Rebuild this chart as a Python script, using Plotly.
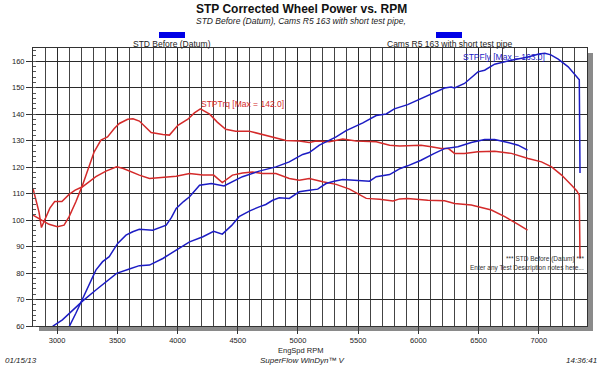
import plotly.graph_objects as go

# ---------------- data ----------------
std_trq_rpm = [2800, 2825, 2850, 2870, 2900, 2940, 2980, 3040, 3100, 3150, 3211, 3270, 3322, 3406, 3494, 3550,
               3600, 3683, 3767, 3878, 3989, 4100, 4211, 4300, 4372, 4456, 4540, 4622, 4706, 4817, 4928,
               5011, 5094, 5206, 5317, 5428, 5500, 5567, 5678, 5789, 5844, 5911, 6078, 6217, 6300, 6439,
               6606, 6717, 6828, 6906]
std_trq = [112.0, 107.5, 103.0, 97.2, 100.5, 104.5, 107.0, 107.0, 109.7, 111.3, 112.6, 114.5, 116.4, 118.5,
           120.1, 119.5, 118.5, 117.0, 115.7, 116.1, 116.6, 117.6, 117.0, 117.0, 114.2, 117.0, 117.8, 118.2,
           117.6, 117.6, 115.7, 115.1, 115.7, 114.5, 113.5, 111.7, 110.0, 108.2, 107.9, 107.2, 108.0, 108.2,
           107.5, 107.3, 106.3, 105.7, 103.8, 101.3, 98.4, 96.2]

cam_trq_rpm = [2800, 2850, 2933, 3003, 3058, 3100, 3156, 3211, 3253, 3308, 3364, 3419, 3475, 3517, 3586, 3630,
               3683, 3730, 3781, 3878, 3933, 4003, 4086, 4140, 4190, 4267, 4330, 4400, 4483, 4594, 4706,
               4817, 4900, 5011, 5094, 5150, 5261, 5372, 5483, 5650, 5761, 5844, 5911, 6022, 6106, 6189,
               6250, 6300, 6383, 6494, 6633, 6772, 6911, 7022, 7106, 7189, 7272, 7314, 7336, 7342]
cam_trq = [101.9, 100.6, 98.4, 97.5, 98.1, 101.3, 106.9, 113.2, 118.9, 125.8, 130.2, 131.4, 134.6, 136.5,
           138.1, 138.3, 137.4, 135.5, 133.1, 132.3, 132.1, 135.8, 138.1, 140.5, 142.0, 140.0, 137.0, 134.3,
           133.6, 133.6, 132.3, 131.1, 130.1, 129.9, 129.3, 129.9, 129.6, 130.6, 129.9, 129.6, 128.3, 128.0,
           128.1, 128.3, 127.7, 127.0, 127.0, 125.2, 125.2, 125.8, 126.0, 125.2, 123.3, 122.0, 120.1, 117.0,
           113.2, 111.1, 109.4, 85.5]

std_pwr_rpm = [2950, 2967, 3044, 3128, 3211, 3322, 3406, 3494, 3600, 3683, 3767, 3878, 3989, 4100, 4211,
               4300, 4372, 4450, 4511, 4600, 4678, 4733, 4790, 4844, 4928, 5011, 5094, 5164, 5233, 5300,
               5372, 5483, 5594, 5650, 5761, 5800, 5850, 5911, 6022, 6133, 6217, 6328, 6439, 6550, 6633,
               6744, 6828, 6906]
std_pwr = [58.5, 60.0, 62.3, 66.0, 69.4, 73.6, 76.7, 79.9, 81.5, 82.8, 83.0, 85.5, 88.7, 91.8, 93.7, 95.8,
           94.7, 98.0, 101.3, 103.5, 105.0, 105.9, 107.5, 108.4, 108.2, 110.7, 111.3, 111.7, 113.8, 114.7,
           115.3, 115.1, 114.7, 116.4, 117.2, 118.2, 119.5, 120.5, 122.6, 125.2, 127.0, 127.7, 129.3, 130.4,
           130.4, 129.3, 128.3, 126.4]

cam_pwr_rpm = [3085, 3100, 3156, 3211, 3267, 3322, 3378, 3433, 3503, 3572, 3628, 3683, 3794, 3906, 3950,
               3989, 4050, 4100, 4183, 4281, 4386, 4539, 4678, 4817, 4928, 5039, 5094, 5178, 5317, 5400,
               5539, 5650, 5733, 5800, 5911, 6022, 6106, 6217, 6272, 6300, 6383, 6494, 6550, 6633, 6772,
               6911, 7000, 7050, 7100, 7161, 7244, 7300, 7336, 7342]
cam_pwr = [58.5, 59.7, 64.8, 70.4, 76.1, 81.1, 84.3, 86.2, 91.2, 94.3, 95.6, 96.5, 96.2, 98.1, 101.0, 104.4,
           107.0, 108.8, 113.2, 113.8, 112.9, 116.4, 118.5, 120.1, 122.0, 124.8, 125.5, 128.3, 131.4, 133.8,
           136.7, 139.5, 140.1, 142.0, 143.6, 145.9, 147.8, 149.9, 150.3, 149.9, 151.6, 156.0, 156.6, 158.9,
           160.4, 161.6, 162.7, 163.0, 162.4, 160.8, 157.9, 155.0, 153.0, 117.8]

x_ticks = [3000, 3500, 4000, 4500, 5000, 5500, 6000, 6500, 7000]
y_ticks = [60, 70, 80, 90, 100, 110, 120, 130, 140, 150, 160]

RED = "#d42a2a"
BLUE = "#1c1cc4"
FONT = "Liberation Sans, Arial, sans-serif"

# ---------------- figure ----------------
W, H = 600, 367
L, R, T, B = 33, 587, 48, 326   # plot area pixel box


def px(x):
    return (x - L) / (R - L)


def py(y):
    return (B - y) / (B - T)


fig = go.Figure()
for xs, ys, col in [(std_trq_rpm, std_trq, RED), (cam_trq_rpm, cam_trq, RED),
                    (std_pwr_rpm, std_pwr, BLUE), (cam_pwr_rpm, cam_pwr, BLUE)]:
    fig.add_trace(go.Scatter(x=xs, y=ys, mode="lines", line=dict(color=col, width=1.5),
                             hoverinfo="skip", showlegend=False))

fig.update_layout(
    width=W, height=H,
    margin=dict(l=L, r=W - R, t=T, b=H - B, pad=0),
    paper_bgcolor="white", plot_bgcolor="white",
    font=dict(family=FONT, color="#222", size=9),
    showlegend=False,
)

fig.update_xaxes(
    range=[2800, 7400], tickvals=x_ticks, ticktext=[str(v) for v in x_ticks],
    showgrid=True, gridcolor="#2a2a2a", gridwidth=1.2,
    minor=dict(dtick=100, tick0=2800, showgrid=True, gridcolor="#444", gridwidth=1),
    ticks="outside", ticklen=7, tickcolor="#333", tickfont=dict(size=7.5, color="#222"),
    showline=True, linecolor="#333", linewidth=1, mirror=True, zeroline=False,
)
fig.update_yaxes(
    range=[60, 165], tickvals=y_ticks, ticktext=[str(v) for v in y_ticks],
    showgrid=True, gridcolor="#2a2a2a", gridwidth=1.1,
    minor=dict(dtick=2, tick0=60, ticks="inside", ticklen=3, tickcolor="#555", showgrid=False),
    ticks="outside", ticklen=6, tickcolor="#333", tickfont=dict(size=7.5, color="#222"),
    showline=True, linecolor="#333", linewidth=1, mirror=True, zeroline=False,
)

shapes = []
sx = 6 / (R - L)
sy = 5 / (B - T)
# drop shadow (right and bottom strips)
shapes.append(dict(type="rect", xref="paper", yref="paper", x0=1, x1=1 + sx, y0=-sy, y1=1 - sy,
                   fillcolor="#8a8a8a", line=dict(width=0), layer="below"))
shapes.append(dict(type="rect", xref="paper", yref="paper", x0=sx, x1=1 + sx, y0=-sy, y1=0,
                   fillcolor="#8a8a8a", line=dict(width=0), layer="below"))
# legend swatches
for x0, x1 in [(159, 185), (436, 462)]:
    shapes.append(dict(type="rect", xref="paper", yref="paper", x0=px(x0), x1=px(x1), y0=py(38), y1=py(32),
                       fillcolor="#0000e6", line=dict(width=0)))
fig.update_layout(shapes=shapes)

ann = []


def text(x, y, s, size, color="#222", xanchor="center", bold=False, italic=False):
    if bold:
        s = "<b>" + s + "</b>"
    if italic:
        s = "<i>" + s + "</i>"
    ann.append(dict(x=px(x), y=py(y), xref="paper", yref="paper", text=s, showarrow=False,
                    xanchor=xanchor, yanchor="middle", font=dict(family=FONT, size=size, color=color)))


text(301, 9, "STP Corrected Wheel Power vs. RPM", 12, "#111", bold=True)
text(301, 21, "STD Before (Datum), Cams R5 163 with short test pipe,", 8.5, "#222", italic=True)
text(172, 44, "STD Before (Datum)", 8.5)
text(449, 44, "Cams R5 163 with short test pipe", 8.5)
text(504, 57, "STPFly [Max = 163.0]", 8.5, BLUE)
text(242, 104, "STPTrq [Max = 142.0]", 8.5, RED)
text(586, 259, "*** STD Before (Datum) ***", 6.5, "#333", xanchor="right")
text(586, 268, "Enter any Test Description notes here...", 6.5, "#333", xanchor="right")
text(300, 350, "EngSpd RPM", 7.5)
text(3, 360, "01/15/13", 8, xanchor="left", italic=True)
text(302, 360, "SuperFlow WinDyn\u2122 V", 8, italic=True)
text(599, 360, "14:36:41", 8, xanchor="right", italic=True)
fig.update_layout(annotations=ann)

fig.write_html("out.html", config={"displayModeBar": False},
               post_script="document.body.style.margin='0';document.body.style.overflow='hidden';")
